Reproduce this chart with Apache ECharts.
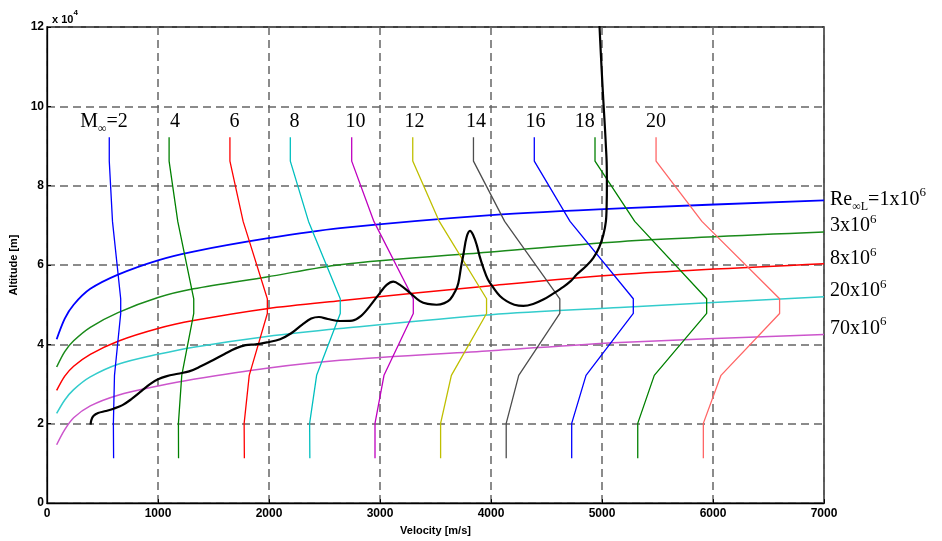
<!DOCTYPE html>
<html>
<head>
<meta charset="utf-8">
<script src="https://cdn.jsdelivr.net/npm/echarts@6/dist/echarts.min.js"></script>
<style>html,body{margin:0;padding:0;background:#fff}#chart{width:942px;height:541px}</style>
</head>
<body>
<div id="chart"></div>
<script>
// ---------- data (velocity in m/s, altitude in units of 10^4 m) ----------
const VELOCITY_TICKS = [0, 1000, 2000, 3000, 4000, 5000, 6000, 7000];
const ALTITUDE_TICKS = [0, 2, 4, 6, 8, 10, 12];

// constant-Mach curves: velocity read at each altitude level
const MACH_NUMBERS = [2, 4, 6, 8, 10, 12, 14, 16, 18, 20];
const MACH_ALTITUDES = [1.13, 2.01, 3.22, 4.78, 5.15, 7.1, 8.62, 9.22];
const MACH_2_VEL  = [600, 598, 608, 664, 664, 590, 561, 561];
const MACH_4_VEL  = [1185, 1184, 1214, 1322, 1322, 1178, 1100, 1100];
const MACH_6_VEL  = [1778, 1776, 1822, 1985, 1985, 1767, 1648, 1648];
const MACH_8_VEL  = [2368, 2366, 2429, 2642, 2642, 2356, 2192, 2192];
const MACH_10_VEL = [2955, 2955, 3036, 3300, 3300, 2945, 2745, 2745];
const MACH_12_VEL = [3546, 3546, 3643, 3960, 3960, 3534, 3295, 3295];
const MACH_14_VEL = [4137, 4137, 4250, 4620, 4620, 4123, 3842, 3842];
const MACH_16_VEL = [4727, 4727, 4856, 5282, 5282, 4712, 4390, 4390];
const MACH_18_VEL = [5322, 5322, 5471, 5943, 5943, 5295, 4937, 4937];
const MACH_20_VEL = [5913, 5913, 6072, 6600, 6600, 5900, 5487, 5487];
const MACH_VELS = [MACH_2_VEL, MACH_4_VEL, MACH_6_VEL, MACH_8_VEL, MACH_10_VEL,
                   MACH_12_VEL, MACH_14_VEL, MACH_16_VEL, MACH_18_VEL, MACH_20_VEL];
// where the Mach labels sit (data coordinates)
const MACH_LABEL_VEL = [514, 1153, 1690, 2230, 2780, 3310, 3865, 4400, 4845, 5486];
const MACH_LABEL_ALT = 9.6;

// constant-Reynolds curves
const RE_NAMES = ['1', '3', '8', '20', '70'];
const RE_VELOCITIES = [87, 160, 240, 390, 640, 1000, 1320, 1980, 2640, 4000, 5160, 7000];
const RE_1E6_ALT  = [4.13, 4.65, 5.00, 5.40, 5.76, 6.12, 6.34, 6.67, 6.93, 7.26, 7.43, 7.63];
const RE_3E6_ALT  = [3.43, 3.82, 4.09, 4.43, 4.80, 5.18, 5.40, 5.70, 6.01, 6.33, 6.59, 6.83];
const RE_8E6_ALT  = [2.84, 3.20, 3.45, 3.75, 4.08, 4.40, 4.60, 4.90, 5.10, 5.48, 5.76, 6.03];
const RE_20E6_ALT = [2.26, 2.60, 2.86, 3.18, 3.50, 3.75, 3.93, 4.20, 4.40, 4.75, 4.93, 5.20];
const RE_70E6_ALT = [1.47, 1.85, 2.15, 2.45, 2.72, 2.95, 3.12, 3.40, 3.60, 3.84, 4.05, 4.25];
const RE_ALTS = [RE_1E6_ALT, RE_3E6_ALT, RE_8E6_ALT, RE_20E6_ALT, RE_70E6_ALT];

// flight trajectory (black)
const TRAJ_VEL = [393, 400, 420, 460, 530, 600, 680, 760, 850, 928, 1000, 1080, 1180, 1280, 1380,
  1480, 1600, 1700, 1790, 1880, 1980, 2100, 2200, 2300, 2380, 2450, 2530, 2640, 2750, 2830,
  2910, 3000, 3060, 3120, 3180, 3270, 3360, 3430, 3510, 3580, 3631, 3680, 3706, 3730, 3751,
  3780, 3811, 3840, 3871, 3900, 3931, 3970, 4021, 4080, 4141, 4210, 4291, 4380, 4471, 4560,
  4652, 4720, 4772, 4860, 4922, 4975, 5012, 5035, 5042, 5044, 5042, 5035, 5027, 5015, 5003,
  4990, 4978, 4975];
const TRAJ_ALT = [1.98, 2.10, 2.20, 2.27, 2.32, 2.38, 2.47, 2.62, 2.82, 3.00, 3.12, 3.20, 3.26, 3.32, 3.44,
  3.58, 3.76, 3.90, 3.98, 4.00, 4.05, 4.13, 4.28, 4.50, 4.65, 4.69, 4.64, 4.59, 4.60, 4.72,
  4.97, 5.30, 5.50, 5.58, 5.50, 5.30, 5.09, 5.02, 5.00, 5.04, 5.13, 5.35, 5.55, 5.95, 6.26,
  6.70, 6.86, 6.75, 6.51, 6.20, 5.93, 5.65, 5.43, 5.22, 5.09, 5.00, 4.97, 5.02, 5.13, 5.28,
  5.45, 5.60, 5.76, 5.98, 6.18, 6.45, 6.76, 7.10, 7.51, 8.00, 8.59, 9.00, 9.43, 10.0, 10.6,
  11.3, 12.0, 12.2];

// ---------- styles ----------
const MACH_COLORS = ['#0000ff', '#008000', '#ff0000', '#00bfbf', '#bf00bf', '#bfbf00',
                     '#4d4d4d', '#0000ff', '#008000', '#ff6666'];
const RE_COLORS = ['#0000ff', '#1a8a1a', '#ff0000', '#33cccc', '#cc55cc'];
const RE_LABEL_DY = [-1, -6, -5, -6, -6];
const SERIF = 'Liberation Serif, Times New Roman, serif';
const SANS = 'Liberation Sans, Arial, sans-serif';

const serifRich = {
  t: { fontFamily: SERIF, fontSize: 20, color: '#000', lineHeight: 26, textBorderWidth: 0 },
  s: { fontFamily: SERIF, fontSize: 12, color: '#000', verticalAlign: 'bottom', lineHeight: 26, textBorderWidth: 0 },
  p: { fontFamily: SERIF, fontSize: 13, color: '#000', verticalAlign: 'top', lineHeight: 14, textBorderWidth: 0 }
};

const series = [];

RE_ALTS.forEach(function (alts, i) {
  series.push({
    type: 'line', name: 'Re ' + RE_NAMES[i], showSymbol: false, smooth: 0.3,
    data: RE_VELOCITIES.map(function (v, k) { return [v, alts[k]]; }),
    lineStyle: { color: RE_COLORS[i], width: i === 0 ? 1.8 : 1.5 },
    itemStyle: { color: RE_COLORS[i] },
    z: 3,
    endLabel: {
      show: true, distance: 6, offset: [0, RE_LABEL_DY[i]], color: '#000',
      formatter: i === 0 ? '{t|Re}{s|∞L}{t|=1x10}{p|6}' : '{t|' + RE_NAMES[i] + 'x10}{p|6}',
      rich: serifRich
    }
  });
});

MACH_VELS.forEach(function (vels, i) {
  series.push({
    type: 'line', name: 'M ' + MACH_NUMBERS[i], showSymbol: false,
    data: vels.map(function (v, k) { return [v, MACH_ALTITUDES[k]]; }),
    lineStyle: { color: MACH_COLORS[i], width: 1.3 },
    itemStyle: { color: MACH_COLORS[i] },
    z: 3
  });
});

series.push({
  type: 'line', name: 'trajectory', showSymbol: false, smooth: 0.35,
  data: TRAJ_VEL.map(function (v, k) { return [v, TRAJ_ALT[k]]; }),
  lineStyle: { color: '#000', width: 2.2 }, itemStyle: { color: '#000' }, z: 4
});

series.push({
  type: 'scatter', name: 'mach labels', symbolSize: 0, silent: true, z: 5,
  itemStyle: { color: '#000', opacity: 1 },
  data: MACH_NUMBERS.map(function (m, i) {
    return { value: [MACH_LABEL_VEL[i], MACH_LABEL_ALT], label: {
      formatter: i === 0 ? '{t|M}{s|∞}{t|=' + m + '}' : '{t|' + m + '}' } };
  }),
  label: { show: true, position: 'inside', color: '#000', opacity: 1, textBorderWidth: 0, rich: serifRich }
});

const chart = echarts.init(document.getElementById('chart'), null, { renderer: 'canvas' });
chart.setOption({
  animation: false,
  backgroundColor: '#fff',
  title: {
    text: '{a|x 10}{b|4}', left: 47, top: 4,
    textStyle: { rich: {
      a: { fontFamily: SANS, fontWeight: 'bold', fontSize: 11, color: '#000', lineHeight: 16, verticalAlign: 'bottom' },
      b: { fontFamily: SANS, fontWeight: 'bold', fontSize: 8, color: '#000', verticalAlign: 'top', lineHeight: 10 }
    } }
  },
  grid: { left: 47, right: 118, top: 27, bottom: 34, show: true, borderColor: '#000', borderWidth: 1.3, backgroundColor: 'transparent' },
  xAxis: {
    type: 'value', min: VELOCITY_TICKS[0], max: VELOCITY_TICKS[VELOCITY_TICKS.length - 1], interval: 1000,
    name: 'Velocity [m/s]', nameLocation: 'middle', nameGap: 19,
    nameTextStyle: { fontFamily: SANS, fontWeight: 'bold', fontSize: 11, color: '#000' },
    axisLine: { show: true, lineStyle: { color: '#000', width: 1.3 } },
    axisTick: { show: true, inside: true, length: 4, lineStyle: { color: '#000' } },
    axisLabel: { fontFamily: SANS, fontWeight: 'bold', fontSize: 12, color: '#000', margin: 5,
                 formatter: function (v) { return String(v); } },
    splitLine: { show: true, lineStyle: { color: '#666', width: 1.5, type: [8, 5] } }
  },
  yAxis: {
    type: 'value', min: ALTITUDE_TICKS[0], max: ALTITUDE_TICKS[ALTITUDE_TICKS.length - 1], interval: 2,
    name: 'Altitude [m]', nameLocation: 'middle', nameGap: 27, nameRotate: 90,
    nameTextStyle: { fontFamily: SANS, fontWeight: 'bold', fontSize: 11, color: '#000' },
    axisLine: { show: true, lineStyle: { color: '#000', width: 1.3 } },
    axisTick: { show: true, inside: true, length: 4, lineStyle: { color: '#000' } },
    axisLabel: { fontFamily: SANS, fontWeight: 'bold', fontSize: 12, color: '#000', margin: 3,
                 formatter: function (v) { return String(v); } },
    splitLine: { show: true, lineStyle: { color: '#666', width: 1.5, type: [8, 5] } }
  },
  series: series
});
</script>
</body>
</html>
